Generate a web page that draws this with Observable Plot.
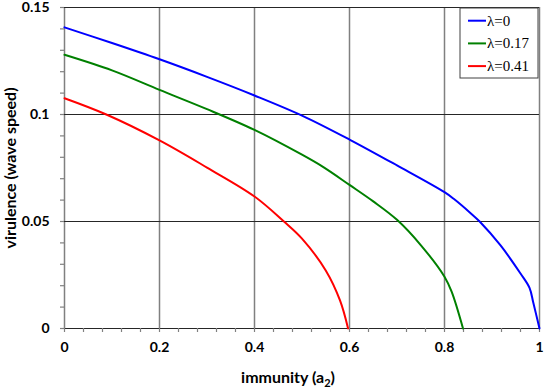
<!DOCTYPE html>
<html><head><meta charset="utf-8">
<script src="https://cdn.jsdelivr.net/npm/d3@7"></script>
<script src="https://cdn.jsdelivr.net/npm/@observablehq/plot@0.6"></script>
<style>
body{margin:0;background:#fff;}
#chart{width:550px;height:390px;}
</style></head><body><div id="chart"></div>
<script>
const seriesNames = ["λ=0", "λ=0.17", "λ=0.41"];
const seriesColors = ["#0000ff", "#008000", "#ff0000"];

const xBlue = [0, 0.1, 0.2, 0.3, 0.4, 0.5, 0.6, 0.7, 0.8, 0.82, 0.855, 0.874, 0.918, 0.96, 0.979, 0.987, 1.0];
const yBlue = [0.1407, 0.1334, 0.1258, 0.1176, 0.1089, 0.0995, 0.0883, 0.0762, 0.0637, 0.0605, 0.0539, 0.0500, 0.0388, 0.0257, 0.0190, 0.0120, 0.0];

const xGreen = [0, 0.1, 0.2, 0.3, 0.4, 0.5, 0.545, 0.6, 0.65, 0.7, 0.75, 0.8, 0.815, 0.839];
const yGreen = [0.1279, 0.1206, 0.1115, 0.1025, 0.0928, 0.0812, 0.0754, 0.0671, 0.0594, 0.0508, 0.0390, 0.0242, 0.0172, 0.0];

const xRed = [0, 0.088, 0.2, 0.3, 0.4, 0.462, 0.5, 0.55, 0.58, 0.597];
const yRed = [0.1076, 0.1000, 0.0879, 0.0752, 0.0617, 0.0500, 0.0420, 0.0271, 0.0131, 0.0];

const xMajor = [0, 0.2, 0.4, 0.6, 0.8, 1];
const xMinor = d3.range(0, 26).map(i => i / 25);
const yMajor = [0, 0.05, 0.1, 0.15];
const yMinor = d3.range(0, 16).map(i => i / 100);
const xGrid = [0.2, 0.4, 0.6, 0.8, 1];
const yGrid = [0.05, 0.1, 0.15];

const seriesX = [xBlue, xGreen, xRed];
const seriesY = [yBlue, yGreen, yRed];
const data = [];
seriesNames.forEach((name, k) => {
  seriesX[k].forEach((xv, i) => data.push({series: name, x: xv, y: seriesY[k][i]}));
});

const fontFam = "Lato, 'Open Sans', sans-serif";

const chart = Plot.plot({
  width: 550,
  height: 390,
  marginLeft: 64,
  marginRight: 11,
  marginTop: 7,
  marginBottom: 62,
  style: {fontFamily: fontFam, background: "#fff", color: "#000", overflow: "visible"},
  x: {domain: [0, 1]},
  y: {domain: [0, 0.15]},
  color: {domain: seriesNames, range: seriesColors},
  marks: [
    Plot.ruleX(xGrid, {stroke: "#808080", strokeWidth: 1.5}),
    Plot.ruleX([0], {stroke: "#808080", strokeWidth: 1.5}),
    Plot.ruleY(yGrid, {stroke: "#262626", strokeWidth: 1}),
    Plot.ruleY([0], {stroke: "#262626", strokeWidth: 1}),
    Plot.axisX(xMinor, {tickSize: 4, stroke: "#808080", strokeWidth: 1.2, tickFormat: () => "", label: null}),
    Plot.axisX(xMajor, {tickSize: 0, tickPadding: 14, tickFormat: d => String(d), fontWeight: "bold", fontSize: 14,
      label: "immunity (a2)", labelAnchor: "center", labelArrow: "none", labelOffset: 54}),
    Plot.axisY(yMinor, {tickSize: 4, stroke: "#808080", strokeWidth: 1.2, tickFormat: () => "", label: null}),
    Plot.axisY(yMajor, {tickSize: 0, tickPadding: 15, tickFormat: d => String(d), fontWeight: "bold", fontSize: 14,
      label: "virulence (wave speed)", labelAnchor: "center", labelArrow: "none", labelOffset: 60}),
    Plot.line(data, {x: "x", y: "y", z: "series", stroke: "series", strokeWidth: 2, curve: "catmull-rom"})
  ]
});

document.getElementById("chart").appendChild(chart);

const svg = d3.select(chart);
svg.selectAll("text").each(function() {
  const t = d3.select(this);
  const txt = t.text();
  if (txt === "immunity (a2)") {
    t.text(null).attr("font-weight", "bold").attr("font-size", 16).attr("dx", -14);
    t.append("tspan").text("immunity (a");
    t.append("tspan").text("2").attr("font-size", 11).attr("dy", 4);
    t.append("tspan").text(")").attr("dy", -4);
  } else if (txt === "virulence (wave speed)") {
    t.attr("font-weight", "bold").attr("font-size", 16);
  }
});

// legend
const lg = svg.append("g").attr("transform", "translate(460,8)");
lg.append("rect").attr("width", 78).attr("height", 70).attr("fill", "#fff").attr("stroke", "#404040").attr("stroke-width", 1);
seriesNames.forEach((name, i) => {
  const cy = 12.7 + i * 22.7;
  lg.append("line").attr("x1", 8).attr("x2", 26).attr("y1", cy).attr("y2", cy)
    .attr("stroke", seriesColors[i]).attr("stroke-width", 2);
  lg.append("text").attr("x", 27).attr("y", cy + 5).text(name)
    .attr("text-anchor", "start")
    .attr("font-family", "'Liberation Serif', 'Times New Roman', serif").attr("font-size", 15).attr("fill", "#000");
});
</script>
</body></html>
